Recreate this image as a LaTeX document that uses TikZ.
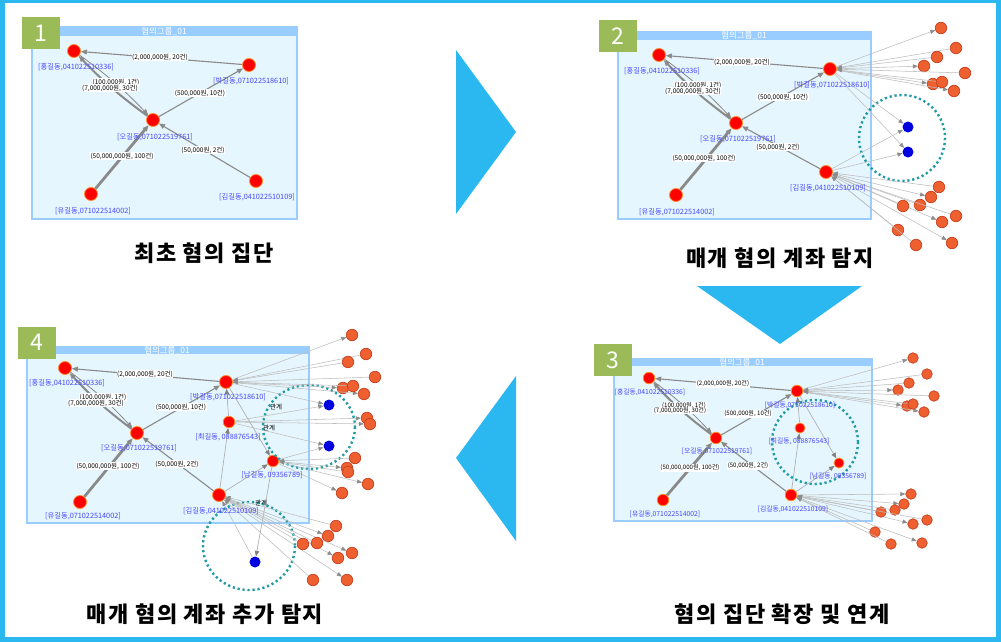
\documentclass[tikz,border=0pt]{standalone}
\usepackage{fontspec}
\setmainfont{Noto Sans CJK KR}
\newfontfamily\capfont[LetterSpace=7]{Noto Sans CJK KR}
\usetikzlibrary{arrows.meta}
\definecolor{framec}{HTML}{2BB8F1}
\definecolor{gboxc}{HTML}{9BBB59}
\definecolor{boxfillc}{HTML}{E6F6FE}
\definecolor{boxlinec}{HTML}{99CCFF}
\definecolor{noderedc}{HTML}{FF0000}
\definecolor{noderingc}{HTML}{FF8A2A}
\definecolor{orangefillc}{HTML}{EE6030}
\definecolor{orangelinec}{HTML}{C8401E}
\definecolor{bluenodec}{HTML}{0000E0}
\definecolor{lbltextc}{HTML}{4444FF}
\definecolor{edgegrayc}{HTML}{8A8A8A}
\definecolor{lightedgec}{HTML}{BDBDBD}
\definecolor{tealc}{HTML}{1E9BA3}
\tikzset{
 rn/.style={circle, fill=noderedc, draw=noderingc, line width=0.8pt, minimum size=13pt, inner sep=0pt},
 rns/.style={rn, minimum size=11.5pt},
 on/.style={circle, fill=orangefillc, draw=orangelinec, line width=0.7pt, minimum size=11.5pt, inner sep=0pt},
 bn/.style={circle, fill=bluenodec, minimum size=11pt, inner sep=0pt},
 nl/.style={text=lbltextc, font=\fontsize{7.3}{7.5}\selectfont, inner sep=0.5pt},
 nls/.style={nl, font=\fontsize{6.8}{7}\selectfont},
 el/.style={fill=white, text=black, font=\fontsize{6.5}{6.5}\selectfont, inner sep=0.6pt},
 els/.style={el, font=\fontsize{6.1}{6.1}\selectfont},
 rel/.style={text=black, font=\fontsize{6.5}{6.5}\selectfont, inner sep=0.5pt},
 ce/.style={draw=edgegrayc, line width=1.1pt, -{Triangle[length=6pt,width=5pt]}},
 he/.style={ce, line width=2pt},
 hhe/.style={ce, line width=2.8pt},
 me/.style={draw=lightedgec!80!gray, line width=0.7pt, -{Triangle[length=5.5pt,width=4.5pt,color=gray]}},
 le/.style={draw=lightedgec, line width=0.55pt, -{Triangle[length=5pt,width=4pt,color=gray!90]}},
 dotc/.style={draw=tealc, line width=2.4pt, dash pattern=on 2.2pt off 2.8pt},
 num/.style={fill=gboxc, text=white, minimum width=38pt, minimum height=32pt, inner sep=0pt, font=\fontsize{23}{23}\selectfont},
 ttl/.style={text=white, font=\fontsize{8.5}{8.5}\selectfont, inner sep=0pt},
 captxt/.style={text=black, font=\capfont\fontsize{22}{22}\selectfont\bfseries, inner sep=0pt},
 tri/.style={fill=framec}
}
\begin{document}
\begin{tikzpicture}[x=1pt,y=-1pt]
\useasboundingbox (0,0) rectangle (1001,642);
% outer frame
\fill[framec] (0,0) rectangle (1001,642);
\fill[white] (4.5,3) rectangle (996,637);
% big arrows
\fill[tri] (456,50) -- (516,132) -- (456,214) -- cycle;
\fill[tri] (516,376) -- (456,458) -- (516,541) -- cycle;
\fill[tri] (697,286) -- (862,286) -- (780,344) -- cycle;
% captions
\node[captxt] (cap1) at (204,253) {최초 혐의 집단};
\node[captxt] (cap2) at (780,258) {매개 혐의 계좌 탐지};
\node[captxt] (cap3) at (782,614) {혐의 집단 확장 및 연계};
\node[captxt] (cap4) at (205,614) {매개 혐의 계좌 추가 탐지};

%================ PANEL 1 =================
\fill[boxfillc] (32,27) rectangle (297,219);
\draw[boxlinec, line width=1.2pt] (32,27) rectangle (297,219);
\fill[boxlinec] (32,27) rectangle (297,36);
\node[ttl] (A-t) at (164,31.5) {혐의그룹\_01};
\node[rn] (A-H) at (74,51) {};
\node[rn] (A-P) at (249,65) {};
\node[rn] (A-O) at (153,120) {};
\node[rn] (A-Y) at (91,194) {};
\node[rn] (A-K) at (256,181) {};
\draw[ce] (A-P) -- (A-H);
\draw[he] (A-O) to[bend left=5] (A-H);
\draw[ce, line width=0.8pt] (A-H) to[bend left=5] (A-O);
\draw[ce] (A-O) -- (A-P);
\draw[hhe] (A-Y) -- (A-O);
\draw[ce] (A-K) -- (A-O);
\node[el] (A-e1) at (160,57) {(2,000,000원, 20건)};
\node[el] (A-e2) at (116,82) {(100,000원, 1건)};
\node[el] (A-e3) at (110,88) {(7,000,000원, 30건)};
\node[el] (A-e4) at (200,93) {(500,000원, 10건)};
\node[el] (A-e5) at (122,156) {(50,000,000원, 100건)};
\node[el] (A-e6) at (203,150) {(50,000원, 2건)};
\node[nl] (A-HL) at (76,67) {[홍길동,041022510336]};
\node[nl] (A-PL) at (251,81) {[박길동,071022518610]};
\node[nl] (A-OL) at (155,137) {[오길동,071022519761]};
\node[nl] (A-YL) at (93,211) {[유길동,071022514002]};
\node[nl] (A-KL) at (257,197) {[김길동,041022510109]};
\node[num] (A-n) at (41,33) {1};

%================ PANEL 2 =================
\fill[boxfillc] (618,32) rectangle (871,219);
\draw[boxlinec, line width=1.2pt] (618,32) rectangle (871,219);
\fill[boxlinec] (618,32) rectangle (871,40);
\node[ttl] (B-t) at (744,36) {혐의그룹\_01};
\node[rn] (B-H) at (659,55) {};
\node[rn] (B-P) at (830,69) {};
\node[rn] (B-O) at (736,123) {};
\node[rn] (B-Y) at (676,195) {};
\node[rn] (B-K) at (826,172) {};
\node[bn] (B-b1) at (908,127) {};
\node[bn] (B-b2) at (908,152) {};
\draw[dotc] (902,138) circle [radius=43];
\foreach \i/\x/\y in {1/941/28,4/924/66,7/933/84,8/954/91}{
  \node[on] (B-o\i) at (\x,\y) {};
  \draw[le] (B-P) -- (B-o\i);}
\foreach \i/\x/\y in {2/956/48,3/937/57,5/965/73,6/942/82}{
  \node[on] (B-o\i) at (\x,\y) {};
  \draw[le] (B-o\i) -- (B-P);}
\foreach \i/\x/\y in {11/931/197,12/942/222,13/952/243}{
  \node[on] (B-o\i) at (\x,\y) {};
  \draw[le] (B-K) -- (B-o\i);}
\foreach \i/\x/\y in {21/939/187,22/903/206,23/920/205,24/956/216,25/898/230,26/916/245}{
  \node[on] (B-o\i) at (\x,\y) {};
  \draw[le] (B-o\i) -- (B-K);}
\draw[le] (B-P) -- (B-b1);
\draw[le] (B-P) -- (B-b2);
\draw[le] (B-K) -- (B-b1);
\draw[le] (B-K) -- (B-b2);
\draw[ce] (B-P) -- (B-H);
\draw[he] (B-O) to[bend left=5] (B-H);
\draw[ce, line width=0.8pt] (B-H) to[bend left=5] (B-O);
\draw[ce] (B-O) -- (B-P);
\draw[hhe] (B-Y) -- (B-O);
\draw[ce] (B-K) -- (B-O);
\node[el] (B-e1) at (742,62) {(2,000,000원, 20건)};
\node[el] (B-e2) at (698,85) {(100,000원, 1건)};
\node[el] (B-e3) at (693,91) {(7,000,000원, 30건)};
\node[el] (B-e4) at (783,97) {(500,000원, 10건)};
\node[el] (B-e5) at (704,158) {(50,000,000원, 100건)};
\node[el] (B-e6) at (778,147) {(50,000원, 2건)};
\node[nl] (B-HL) at (662,71) {[홍길동,041022510336]};
\node[nl] (B-PL) at (832,85) {[박길동,071022518610]};
\node[nl] (B-OL) at (738,139) {[오길동,071022519761]};
\node[nl] (B-YL) at (677,212) {[유길동,071022514002]};
\node[nl] (B-KL) at (828,188) {[김길동,041022510109]};
\node[num] (B-n) at (617.5,36) {2};

%================ PANEL 3 =================
\fill[boxfillc] (614,359) rectangle (872,521);
\draw[boxlinec, line width=1.2pt] (614,359) rectangle (872,521);
\fill[boxlinec] (614,359) rectangle (872,366);
\node[ttl] (C-t) at (742,362.5) {혐의그룹\_01};
\node[rns] (C-H) at (649,378) {};
\node[rns] (C-P) at (797,391) {};
\node[rns] (C-O) at (716,438) {};
\node[rns] (C-Y) at (663,500) {};
\node[rns] (C-K) at (791,495) {};
\node[rns, minimum size=10pt] (C-C) at (800,428) {};
\node[rns, minimum size=10pt] (C-N) at (839,463) {};
\draw[dotc] (815,442) circle [x radius=43, y radius=42];
\foreach \i/\x/\y in {1/913/358,4/898/390,7/907/406,8/924/412}{
  \node[on, minimum size=10.5pt] (C-o\i) at (\x,\y) {};
  \draw[le] (C-P) -- (C-o\i);}
\foreach \i/\x/\y in {2/927/374,3/909/383,5/934/396,6/913/404}{
  \node[on, minimum size=10.5pt] (C-o\i) at (\x,\y) {};
  \draw[le] (C-o\i) -- (C-P);}
\foreach \i/\x/\y in {11/911/494,12/904/504,13/913/524,14/922/543}{
  \node[on, minimum size=10.5pt] (C-o\i) at (\x,\y) {};
  \draw[le] (C-K) -- (C-o\i);}
\foreach \i/\x/\y in {21/881/512,22/895/510,23/927/520,24/875/532,25/891/544}{
  \node[on, minimum size=10.5pt] (C-o\i) at (\x,\y) {};
  \draw[le] (C-o\i) -- (C-K);}
\draw[me] (C-K) -- (C-C);
\draw[me] (C-C) -- (C-P);
\draw[me] (C-P) -- (C-N);
\draw[me] (C-K) -- (C-N);
\draw[ce] (C-P) -- (C-H);
\draw[he] (C-O) to[bend left=5] (C-H);
\draw[ce, line width=0.8pt] (C-H) to[bend left=5] (C-O);
\draw[ce] (C-O) -- (C-P);
\draw[hhe] (C-Y) -- (C-O);
\draw[ce] (C-K) -- (C-O);
\node[els] (C-e1) at (723,384) {(2,000,000원, 20건)};
\node[els] (C-e2) at (684,406) {(100,000원, 1건)};
\node[els] (C-e3) at (680,410.5) {(7,000,000원, 30건)};
\node[els] (C-e4) at (748,414) {(500,000원, 10건)};
\node[els] (C-e5) at (690,468) {(50,000,000원, 100건)};
\node[els] (C-e6) at (748,466) {(50,000원, 2건)};
\node[nls] (C-HL) at (650,392) {[홍길동,041022510336]};
\node[nls] (C-PL) at (800,405) {[박길동,071022518610]};
\node[nls] (C-OL) at (717,451) {[오길동,071022519761]};
\node[nls] (C-YL) at (665,514) {[유길동,071022514002]};
\node[nls] (C-KL) at (793,509) {[김길동,041022510109]};
\node[nls] (C-CL) at (799,441) {[최길동, 088876543]};
\node[nls] (C-NL) at (838,476) {[남길동, 09356789]};
\node[num] (C-n) at (613,360) {3};

%================ PANEL 4 =================
\fill[boxfillc] (27,347) rectangle (309,523);
\draw[boxlinec, line width=1.2pt] (27,347) rectangle (309,523);
\fill[boxlinec] (27,347) rectangle (309,354);
\node[ttl] (D-t) at (167,350.5) {혐의그룹\_01};
\node[rn] (D-H) at (65,368) {};
\node[rn] (D-P) at (226,382) {};
\node[rn] (D-O) at (137,433) {};
\node[rn] (D-Y) at (80,502) {};
\node[rn] (D-K) at (219,495) {};
\node[rns] (D-C) at (229,422) {};
\node[rns] (D-N) at (273,461) {};
\node[bn] (D-b1) at (329,405) {};
\node[bn] (D-b2) at (329,446) {};
\node[bn] (D-b3) at (255,562) {};
\draw[dotc] (309,427) circle [x radius=46, y radius=42];
\draw[dotc] (249,546) circle [x radius=46, y radius=44];
\foreach \i/\x/\y in {1/352/335,5/343/388,7/364/394}{
  \node[on] (D-o\i) at (\x,\y) {};
  \draw[le] (D-P) -- (D-o\i);}
\foreach \i/\x/\y in {2/366/354,3/348/362,4/375/377,6/353/386}{
  \node[on] (D-o\i) at (\x,\y) {};
  \draw[le] (D-o\i) -- (D-P);}
\foreach \i/\x/\y in {11/367/418,12/370/424}{
  \node[on] (D-o\i) at (\x,\y) {};
  \draw[le] (D-C) -- (D-o\i);}
\foreach \i/\x/\y in {21/347/468,22/368/484,23/342/493}{
  \node[on] (D-o\i) at (\x,\y) {};
  \draw[le] (D-N) -- (D-o\i);}
\foreach \i/\x/\y in {24/355/458,25/348/472}{
  \node[on] (D-o\i) at (\x,\y) {};
  \draw[le] (D-o\i) -- (D-N);}
\foreach \i/\x/\y in {31/328/536,32/338/558,33/347/580,34/352/553}{
  \node[on] (D-o\i) at (\x,\y) {};
  \draw[le] (D-K) -- (D-o\i);}
\foreach \i/\x/\y in {41/336/526,42/303/544,43/317/543,44/313/580}{
  \node[on] (D-o\i) at (\x,\y) {};
  \draw[le] (D-o\i) -- (D-K);}
\draw[le] (D-P) -- (D-b1);
\draw[le] (D-C) -- (D-b1);
\draw[le] (D-C) -- (D-b2);
\draw[le] (D-N) -- (D-b2);
\draw[le] (D-b3) -- (D-K);
\draw[me] (D-N) -- (D-b3);
\draw[me] (D-K) -- (D-C);
\draw[me] (D-C) -- (D-P);
\draw[me] (D-P) -- (D-N);
\draw[me] (D-K) -- (D-N);
\draw[ce] (D-P) -- (D-H);
\draw[he] (D-O) to[bend left=5] (D-H);
\draw[ce, line width=0.8pt] (D-H) to[bend left=5] (D-O);
\draw[ce] (D-O) -- (D-P);
\draw[hhe] (D-Y) -- (D-O);
\draw[ce] (D-K) -- (D-O);
\node[rel] (D-r1) at (276,407) {관계};
\node[rel] (D-r2) at (269,428) {관계};
\node[rel] (D-r3) at (261,503) {관계};
\node[el] (D-e1) at (145,374) {(2,000,000원, 20건)};
\node[el] (D-e2) at (103,397) {(100,000원, 1건)};
\node[el] (D-e3) at (96,403) {(7,000,000원, 30건)};
\node[el] (D-e4) at (181,407) {(500,000원, 10건)};
\node[el] (D-e5) at (108,466) {(50,000,000원, 100건)};
\node[el] (D-e6) at (177,464) {(50,000원, 2건)};
\node[nl] (D-HL) at (67,383) {[홍길동,041022510336]};
\node[nl] (D-PL) at (228,397) {[박길동,071022518610]};
\node[nl] (D-OL) at (139,448) {[오길동,071022519761]};
\node[nl] (D-YL) at (83,516) {[유길동,071022514002]};
\node[nl] (D-KL) at (221,511) {[김길동,041022510109]};
\node[nl] (D-CL) at (228,437) {[최길동, 088876543]};
\node[nl] (D-NL) at (272,475) {[남길동, 09356789]};
\node[num] (D-n) at (36.5,342.5) {4};
\end{tikzpicture}
\end{document}
